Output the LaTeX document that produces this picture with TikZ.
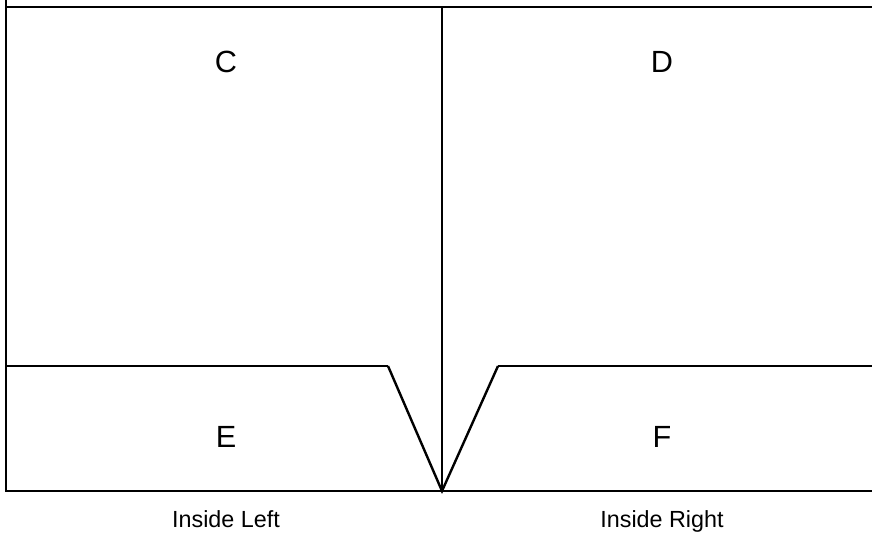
\documentclass[tikz,border=0pt]{standalone}
\usepackage{fontspec}
\setmainfont{Liberation Sans}
\usepackage{tikz}

\tikzset{
  panel/.style={font=\fontsize{23}{27}\selectfont,anchor=base},
  side/.style={font=\fontsize{17.5}{21}\selectfont,anchor=base}
}

\begin{document}
\begin{tikzpicture}[x=0.75pt,y=-0.75pt,line width=1.1pt]
  \useasboundingbox (0,0) rectangle (872,533);
  % outer frame and fold
  \draw (6,0) -- (6,491) -- (872,491);
  \draw (6,7) -- (872,7);
  \draw[line width=0.8pt] (442,7) -- (442,491);
  % pockets
  \draw (6,366) -- (388,366);
  \draw (498,366) -- (872,366);
  \draw[line width=1.8pt] (388,366) -- (442,491) -- (498,366);
  \node[panel] (c) at (226,72) {C};
  \node[panel] (d) at (662,72) {D};
  \node[panel] (e) at (226,447) {E};
  \node[panel] (f) at (662,447) {F};
  \node[side] (left) at (226,527) {Inside Left};
  \node[side] (right) at (662,527) {Inside Right};
\end{tikzpicture}
\end{document}
